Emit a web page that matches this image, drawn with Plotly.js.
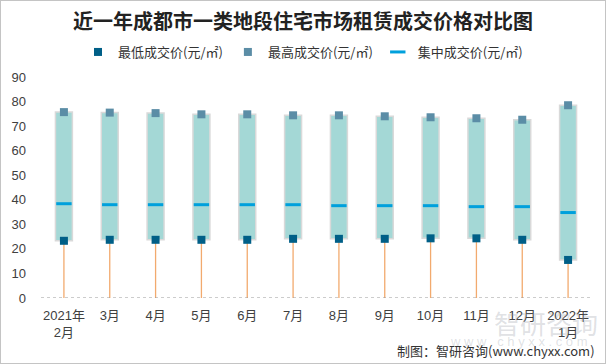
<!DOCTYPE html>
<html>
<head>
<meta charset="utf-8">
<script src="https://cdn.plot.ly/plotly-3.0.1.min.js"></script>
<style>
html,body{margin:0;padding:0;background:#fff;}
#wrap{position:relative;width:606px;height:364px;}
#chart{width:606px;height:364px;}
#frame{position:absolute;left:0;top:0;width:604px;height:362px;border:1px solid #c4c4c4;pointer-events:none;}
</style>
</head>
<body>
<div id="wrap"><div id="chart"></div><div id="frame"></div></div>
<script>
const categories = ['2021年<br>2月','3月','4月','5月','6月','7月','8月','9月','10月','11月','12月','2022年<br>1月'];
const minPrice = [23.3, 23.7, 23.7, 23.7, 23.7, 24.1, 24.1, 24.1, 24.3, 24.3, 23.7, 15.5];
const maxPrice = [75.7, 75.5, 75.3, 74.8, 74.8, 74.4, 74.4, 74.0, 73.6, 73.2, 72.6, 78.5];
const midPrice = [38.4, 38.0, 38.0, 38.0, 38.0, 38.0, 37.6, 37.6, 37.6, 37.2, 37.2, 34.8];
const yTicks = [0,10,20,30,40,50,60,70,80,90];

const stemX = [], stemY = [];
categories.forEach((c,i)=>{ stemX.push(c,c,null); stemY.push(0,minPrice[i],null); });

const tickFont = {family:'Liberation Sans, Noto Sans CJK SC, sans-serif', size:13, color:'#404040'};
const cjk = 'Noto Sans CJK SC, sans-serif';

const traces = [
  {type:'scatter', mode:'lines', x:stemX, y:stemY, line:{color:'#F2AA6E', width:1.3}, showlegend:false, hoverinfo:'skip'},
  {type:'bar', x:categories, base:minPrice, y:maxPrice.map((v,i)=>v-minPrice[i]), width:0.37,
   marker:{color:'#A4D8D6', line:{color:'#D9D9D9', width:1.5}}, showlegend:false},
  {type:'scatter', mode:'markers', name:'最低成交价(元/㎡)', x:categories, y:minPrice,
   marker:{symbol:'square', size:8, color:'#005F87'}},
  {type:'scatter', mode:'markers', name:'最高成交价(元/㎡)', x:categories, y:maxPrice,
   marker:{symbol:'square', size:8, color:'#5B8DA6'}},
  {type:'scatter', mode:'markers', name:'集中成交价(元/㎡)', x:categories, y:midPrice,
   marker:{symbol:'line-ew-open', size:11, color:'#00A0DC', line:{color:'#00A0DC', width:3}}}
];

const layout = {
  width:606, height:364,
  margin:{l:41, r:15, t:77, b:66},
  paper_bgcolor:'#fff', plot_bgcolor:'#fff',
  title:{text:'近一年成都市一类地段住宅市场租赁成交价格对比图', font:{family:cjk, size:20, color:'#222', weight:'bold'},
         x:0.5, xref:'container', xanchor:'center', y:1-22/364, yref:'container', yanchor:'middle'},
  showlegend:true,
  legend:{orientation:'h', x:0.5, xref:'container', xanchor:'center', y:1-52/364, yref:'container', yanchor:'middle',
          font:{family:cjk, size:13, color:'#333'}, itemwidth:30, traceorder:'normal'},
  xaxis:{type:'category', range:[-0.5, 11.5], showgrid:false, zeroline:false, showline:false, ticks:'',
         tickfont:tickFont, ticklabelstandoff:8, fixedrange:true},
  yaxis:{range:[0,90], tickvals:yTicks, showgrid:false, zeroline:false, showline:false, ticks:'',
         tickfont:tickFont, ticklabelstandoff:14, fixedrange:true},
  shapes:[{type:'line', xref:'paper', yref:'y', x0:0, x1:1, y0:0, y1:0, line:{color:'#9a9a9a', width:1.2, dash:'dot'}}],
  annotations:[
    {text:'智研咨询', xref:'paper', yref:'paper', x:1.016, y:(298-322)/221, xanchor:'right', yanchor:'middle', showarrow:false,
     font:{family:cjk, size:26, color:'rgba(150,155,165,0.3)'}},
    {text:'w w w . c h y x x . c o m', xref:'paper', yref:'paper', x:0.998, y:(298-341)/221, xanchor:'right', yanchor:'middle', showarrow:false,
     font:{family:'Liberation Sans, sans-serif', size:13, color:'rgba(150,155,165,0.3)'}},
    {text:'制图：智研咨询(www.chyxx.com)', xref:'paper', yref:'paper', x:1.011, y:(298-350)/221, xanchor:'right', yanchor:'middle', showarrow:false,
     font:{family:'Noto Sans CJK SC, Liberation Mono, monospace', size:13, color:'#333'}}
  ]
};

Plotly.newPlot('chart', traces, layout, {displayModeBar:false, staticPlot:true});
</script>
</body>
</html>
